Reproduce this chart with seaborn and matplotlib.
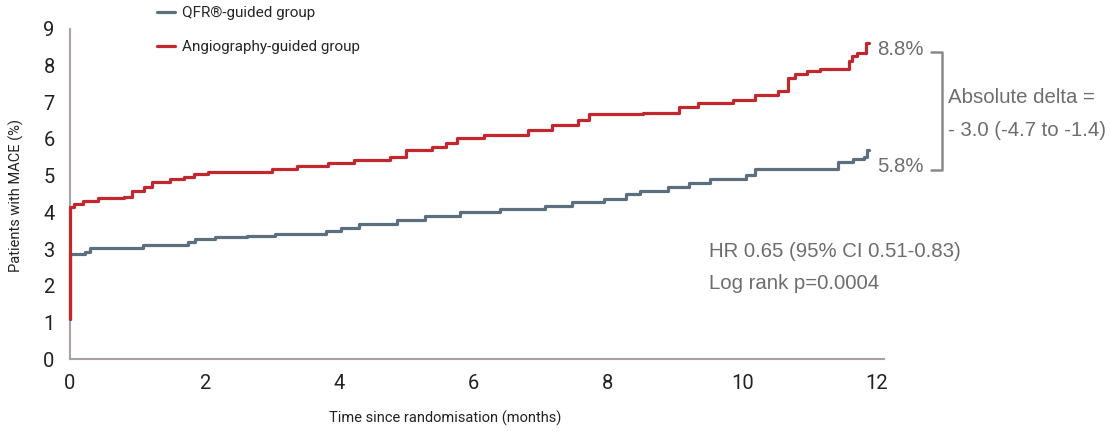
import numpy as np
import pandas as pd
import matplotlib
matplotlib.use("Agg")
import matplotlib.pyplot as plt
import seaborn as sns

sns.set_style("white")
plt.rcParams["font.family"] = ["Roboto", "DejaVu Sans"]

# Kaplan-Meier style cumulative event curves
qfr_t = [0, 0, 0.22, 0.30, 1.08, 1.75, 1.86, 2.16, 2.63, 3.05, 3.80, 4.03, 4.30,
         4.86, 5.28, 5.80, 6.39, 7.07, 7.46, 7.94, 8.27, 8.47, 8.90, 9.20, 9.52,
         10.05, 10.19, 11.42, 11.64, 11.81, 11.85, 11.88]
qfr_pct = [1.1, 2.86, 2.92, 3.03, 3.11, 3.19, 3.27, 3.32, 3.35, 3.40, 3.49, 3.57, 3.68,
           3.78, 3.89, 4.00, 4.10, 4.16, 4.27, 4.35, 4.49, 4.57, 4.70, 4.80, 4.92,
           5.03, 5.19, 5.38, 5.46, 5.51, 5.70, 5.70]

angio_t = [0, 0, 0.06, 0.19, 0.42, 0.81, 0.92, 1.10, 1.22, 1.49, 1.69, 1.84, 2.05,
           3.00, 3.37, 3.84, 4.23, 4.76, 5.00, 5.39, 5.59, 5.75, 6.16, 6.81, 7.17,
           7.55, 7.72, 8.52, 9.05, 9.34, 9.86, 10.19, 10.53, 10.67, 10.78, 10.96,
           11.15, 11.58, 11.63, 11.71, 11.84, 11.88]
angio_pct = [1.1, 4.14, 4.24, 4.30, 4.40, 4.43, 4.57, 4.70, 4.84, 4.92, 4.95, 5.05, 5.11,
             5.19, 5.27, 5.35, 5.43, 5.51, 5.70, 5.78, 5.89, 6.03, 6.11, 6.24, 6.38,
             6.51, 6.68, 6.70, 6.86, 6.97, 7.05, 7.19, 7.32, 7.65, 7.78, 7.86,
             7.92, 8.14, 8.27, 8.35, 8.62, 8.62]

groups = ["QFR\u00ae-guided group", "Angiography-guided group"]
colors = ["#5b6f7e", "#c1272d"]

df = pd.concat([
    pd.DataFrame({"t": qfr_t, "pct": qfr_pct, "group": groups[0]}),
    pd.DataFrame({"t": angio_t, "pct": angio_pct, "group": groups[1]}),
])

fig = plt.figure(figsize=(11.11, 4.34), dpi=100)
ax = fig.add_axes([0.063, 0.1728, 0.7324, 0.7604])

sns.lineplot(data=df, x="t", y="pct", hue="group", palette=colors,
             estimator=None, drawstyle="steps-post", linewidth=2.3, ax=ax)
for line in ax.lines:
    line.set_clip_on(False)
    line.set_zorder(3)

ax.set_xlim(0, 12.1)
ax.set_ylim(0, 9)
ax.set_xticks([0, 2, 4, 6, 8, 10, 12])
ax.set_yticks(range(10))
sns.despine(ax=ax)
for s in ["left", "bottom"]:
    ax.spines[s].set_color("#aaa2a2")
    ax.spines[s].set_linewidth(1.5)
ax.tick_params(axis="both", colors="#aaa2a2", length=5, width=1.3,
               labelsize=14.5, labelcolor="#222222")
ax.tick_params(axis="x", pad=6)
ax.tick_params(axis="y", pad=6)

ax.set_xlabel("Time since randomisation (months)", fontsize=10.5, color="#222222")
ax.set_ylabel("Patients with MACE (%)", fontsize=10.5, color="#222222")
ax.xaxis.set_label_coords(0.461, -0.158)
ax.yaxis.set_label_coords(-0.0565, 0.494)

# legend at the top
handles, labels = ax.get_legend_handles_labels()
ax.get_legend().remove()
fig.legend(handles, labels, loc="upper left", bbox_to_anchor=(157 / 1111, 1 - 6 / 434),
           frameon=False, fontsize=11, handlelength=1.2, handletextpad=0.45,
           labelspacing=1.3, borderpad=0, borderaxespad=0)

# annotations
grey = "#6d6d6d"
afont = dict(family=["Liberation Sans", "DejaVu Sans"], fontsize=14.7, color=grey,
             va="center", ha="left", clip_on=False)
ax.text(12.0, 8.45, "8.8%", **afont)
ax.text(12.0, 5.24, "5.8%", **afont)
ax.text(13.06, 7.12, "Absolute delta =", **afont)
ax.text(13.06, 6.22, "- 3.0 (-4.7 to -1.4)", **afont)
ax.text(9.50, 2.92, "HR 0.65 (95% CI 0.51-0.83)", **afont)
ax.text(9.50, 2.05, "Log rank p=0.0004", **afont)

ax.plot([12.80, 12.97, 12.97, 12.80], [8.37, 8.37, 5.15, 5.15], color="#8a8a8a",
        linewidth=1.8, clip_on=False)

fig.savefig("out.png", dpi=100)
